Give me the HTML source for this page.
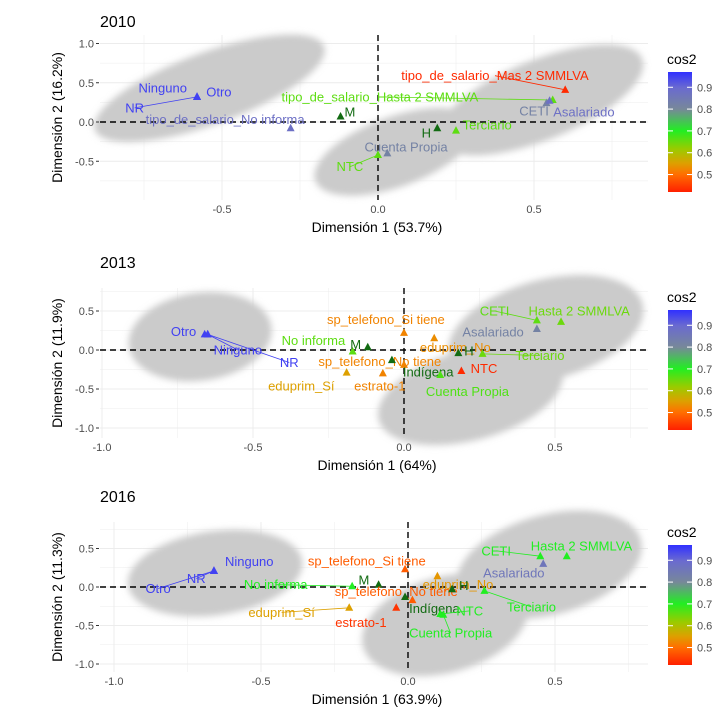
<!DOCTYPE html>
<html><head><meta charset="utf-8"><style>
html,body{margin:0;padding:0;background:#fff}
svg{display:block;font-family:"Liberation Sans",sans-serif}
</style></head><body>
<svg id="chart" width="718" height="721" viewBox="0 0 718 721">
<defs>
<filter id="blur" x="-30%" y="-30%" width="160%" height="160%"><feGaussianBlur stdDeviation="3.5"/></filter>
<linearGradient id="cbar" x1="0" y1="0" x2="0" y2="1">
<stop offset="0" stop-color="#3030ff"/><stop offset="0.13" stop-color="#6a6ad0"/><stop offset="0.31" stop-color="#778899"/>
<stop offset="0.49" stop-color="#22ee22"/><stop offset="0.64" stop-color="#99cc00"/><stop offset="0.76" stop-color="#dda000"/>
<stop offset="0.85" stop-color="#ff7000"/><stop offset="1" stop-color="#ff2000"/></linearGradient>
</defs>
</svg>
<script>
// ---------- data: 2010 ----------
const cats2010 = ["Ninguno","Otro","NR","tipo_de_salario_No informa","M","tipo_de_salario_Hasta 2 SMMLVA","tipo_de_salario_Mas 2 SMMLVA","CETI","Asalariado","H","Terciario","Cuenta Propia","NTC"];
const x2010 = [-0.58,-0.58,-0.58,-0.28,-0.12,0.56,0.60,0.54,0.55,0.19,0.25,0.03,0.0];
const y2010 = [0.32,0.32,0.32,-0.08,0.07,0.28,0.41,0.24,0.27,-0.08,-0.11,-0.40,-0.42];
const lx2010 = [-0.69,-0.51,-0.78,-0.49,-0.09,0.006,0.375,0.50,0.66,0.155,0.35,0.09,-0.09];
const ly2010 = [0.43,0.38,0.18,0.03,0.13,0.32,0.59,0.14,0.13,-0.14,-0.04,-0.32,-0.57];
const cos2010 = [0.95,0.95,0.95,0.88,0,0.66,0.43,0.82,0.88,0,0.66,0.82,0.66];
const sup2010 = [0,0,0,0,1,0,0,0,0,1,0,0,0];
const link2010 = [0,0,1,0,0,1,1,0,0,0,0,0,1];
// ---------- data: 2013 ----------
const cats2013 = ["Otro","Ninguno","NR","No informa","M","sp_telefono_Si tiene","eduprim_No","sp_telefono_No tiene","eduprim_Sí","estrato-1","Indígena","H","Terciario","NTC","Cuenta Propia","CETI","Hasta 2 SMMLVA","Asalariado"];
const x2013 = [-0.66,-0.65,-0.65,-0.17,-0.12,0.0,0.10,0.0,-0.19,-0.07,-0.04,0.18,0.26,0.19,0.12,0.44,0.52,0.44];
const y2013 = [0.20,0.20,0.20,-0.02,0.035,0.22,0.15,-0.19,-0.29,-0.30,-0.13,-0.04,-0.05,-0.27,-0.32,0.38,0.36,0.27];
const lx2013 = [-0.73,-0.55,-0.38,-0.30,-0.16,-0.06,0.17,-0.08,-0.34,-0.08,0.08,0.215,0.45,0.265,0.21,0.30,0.58,0.295];
const ly2013 = [0.24,0.0,-0.16,0.12,0.07,0.39,0.035,-0.15,-0.46,-0.46,-0.28,-0.01,-0.07,-0.24,-0.53,0.50,0.50,0.23];
const cos2013 = [0.95,0.95,0.95,0.66,0,0.52,0.53,0.52,0.55,0.52,0,0,0.65,0.43,0.67,0.66,0.65,0.82];
const sup2013 = [0,0,0,0,1,0,0,0,0,0,1,1,0,0,0,0,0,0];
const link2013 = [0,1,1,0,0,0,0,0,0,0,0,0,1,0,0,1,0,0];
// ---------- data: 2016 ----------
const cats2016 = ["Ninguno","NR","Otro","No informa","M","sp_telefono_Si tiene","eduprim_No","sp_telefono_No tiene","Indígena","H","Terciario","NTC","Cuenta Propia","eduprim_Sí","estrato-1","CETI","Hasta 2 SMMLVA","Asalariado"];
const x2016 = [-0.66,-0.66,-0.66,-0.19,-0.10,-0.01,0.10,0.015,-0.01,0.15,0.26,0.11,0.12,-0.20,-0.04,0.45,0.54,0.46];
const y2016 = [0.21,0.21,0.21,0.01,0.03,0.23,0.14,-0.17,-0.13,-0.03,-0.05,-0.35,-0.36,-0.27,-0.27,0.40,0.40,0.30];
const lx2016 = [-0.54,-0.72,-0.85,-0.45,-0.15,-0.14,0.17,-0.04,0.09,0.19,0.42,0.21,0.145,-0.43,-0.16,0.30,0.59,0.36];
const ly2016 = [0.33,0.11,-0.02,0.03,0.09,0.34,0.035,-0.06,-0.28,0.02,-0.26,-0.31,-0.60,-0.33,-0.46,0.47,0.53,0.18];
const cos2016 = [0.95,0.95,0.95,0.70,0,0.48,0.54,0.48,0,0,0.70,0.70,0.70,0.55,0.44,0.70,0.70,0.86];
const sup2016 = [0,0,0,0,1,0,0,0,1,1,0,0,0,0,0,0,0,0];
const link2016 = [0,1,1,1,0,0,0,0,0,0,1,1,1,1,0,1,0,0];
// tick label arrays
const xTicks1 = [-0.5,0,0.5];
const xTicks23 = [-1.0,-0.5,0,0.5];
const yTicks1 = [1.0,0.5,0,-0.5];
const yTicks23 = [0.5,0,-0.5,-1.0];
const cbTicks = [0.9,0.8,0.7,0.6,0.5];

const NS = "http://www.w3.org/2000/svg";
const svg = document.getElementById('chart');
function mk(tag, attrs, parent, txt){
  const e = document.createElementNS(NS, tag);
  for (const k in attrs) e.setAttribute(k, attrs[k]);
  if (txt !== undefined) e.textContent = txt;
  (parent||svg).appendChild(e); return e;
}
const stops = [[0.42,[255,32,0]],[0.5,[255,112,0]],[0.55,[221,160,0]],[0.62,[153,204,0]],[0.7,[34,238,34]],[0.8,[119,136,153]],[0.9,[106,106,208]],[0.97,[48,48,255]]];
function colorOf(v){
  if (v <= stops[0][0]) return 'rgb('+stops[0][1]+')';
  for (let i=1;i<stops.length;i++){
    if (v <= stops[i][0]){
      const t=(v-stops[i-1][0])/(stops[i][0]-stops[i-1][0]);
      const c=stops[i-1][1].map((a,j)=>Math.round(a+(stops[i][1][j]-a)*t));
      return 'rgb('+c+')';
    }
  }
  return 'rgb('+stops[stops.length-1][1]+')';
}

function panel(cfg){
  const g = mk('g',{});
  
  
  const sx = v => cfg.x0 + v*cfg.kx;
  const sy = v => cfg.y0 - v*cfg.ky;
  const grid = mk('g',{},g);
  
  
  for (let v=-1.25; v<=1.01; v+=0.25){
    const major = Math.abs(v*2-Math.round(v*2))<1e-6;
    const px=sx(v); if (px>=cfg.L && px<=cfg.R) mk('line',{x1:px,x2:px,y1:cfg.T,y2:cfg.B,stroke:'#ececec','stroke-width':major?1:0.5},grid);
    const py=sy(v); if (py>=cfg.T && py<=cfg.B) mk('line',{x1:cfg.L,x2:cfg.R,y1:py,y2:py,stroke:'#ececec','stroke-width':major?1:0.5},grid);
  }
  const cl = mk('g',{filter:'url(#blur)'},g);
  
  
  cfg.clouds.forEach(c=>{
    const e = mk('ellipse',{cx:sx(c[0]),cy:sy(c[1]),rx:c[2],ry:c[3],fill:'#cbcbcb',transform:'rotate('+c[4]+' '+sx(c[0])+' '+sy(c[1])+')'},cl);
    
    
  });
  const hl = mk('line',{x1:cfg.L,x2:cfg.R,y1:sy(0),y2:sy(0),stroke:'#000','stroke-width':1.4,'stroke-dasharray':'6,4'},g);
  
  
  const vl = mk('line',{x1:sx(0),x2:sx(0),y1:cfg.T,y2:cfg.B,stroke:'#000','stroke-width':1.4,'stroke-dasharray':'6,4'},g);
  
  
  const d = cfg.data;
  d.cats.forEach((name,i)=>{
    const col = d.sup[i] ? '#126b12' : colorOf(d.cos[i]);
    const px=sx(d.x[i]), py=sy(d.y[i]), lx=sx(d.lx[i]), ly=sy(d.ly[i]);
    if (d.link[i]){
      const ln = mk('line',{x1:lx,y1:ly,x2:px,y2:py,stroke:col,'stroke-width':0.8},g);
      
      
    }
    const tri = mk('path',{d:'M'+px+','+(py-4.5)+'L'+(px+4)+','+(py+3)+'L'+(px-4)+','+(py+3)+'Z',fill:col},g);
    
    
    const t = mk('text',{x:lx,y:ly+4.5,'text-anchor':'middle','font-size':13,fill:col},g,name);
    
    
  });
  const tt = mk('text',{x:100,y:cfg.titleY,'font-size':16,fill:'#000'},g,cfg.title);
  
  
  cfg.xt.forEach(v=>{
    const t=mk('text',{x:sx(v),y:cfg.B+13,'text-anchor':'middle','font-size':11,fill:'#4d4d4d'},g,v.toFixed(1));
    
    
  });
  cfg.yt.forEach(v=>{
    const py=sy(v);
    mk('line',{x1:cfg.L-4,x2:cfg.L-1,y1:py,y2:py,stroke:'#333','stroke-width':1},g);
    const t=mk('text',{x:cfg.L-6,y:py+4,'text-anchor':'end','font-size':11,fill:'#4d4d4d'},g,v.toFixed(1));
    
    
  });
  const xa=mk('text',{x:(cfg.L+cfg.R)/2+3,y:cfg.B+32,'text-anchor':'middle','font-size':14,fill:'#000'},g,cfg.xlab);
  
  
  const cy=(cfg.T+cfg.B)/2;
  const ya=mk('text',{x:62,y:cy,'text-anchor':'middle','font-size':14,fill:'#000',transform:'rotate(-90 62 '+cy+')'},g,cfg.ylab);
  
  
  const lg = mk('g',{},g);
  
  
  mk('text',{x:667,y:cfg.cbTop-8,'font-size':14,fill:'#000'},lg,'cos2');
  mk('rect',{x:668,y:cfg.cbTop,width:24,height:120,fill:'url(#cbar)'},lg);
  cbTicks.forEach(v=>{
    const py = cfg.cbTop + (0.97-v)/0.55*120;
    mk('line',{x1:668,x2:673,y1:py,y2:py,stroke:'#fff','stroke-width':1},lg);
    mk('line',{x1:687,x2:692,y1:py,y2:py,stroke:'#fff','stroke-width':1},lg);
    mk('text',{x:697,y:py+4,'font-size':11,fill:'#4d4d4d'},lg,v.toFixed(1));
  });
}

panel({title:'2010',titleY:27,L:100,R:648,T:35,B:200,x0:378,kx:312,y0:122,ky:78.5,
  xt:xTicks1,yt:yTicks1,xlab:'Dimensión 1 (53.7%)',ylab:'Dimensión 2 (16.2%)',cbTop:72,
  clouds:[[-0.54,0.43,122,36,-20],[0.055,-0.38,85,35,-20],[0.52,0.28,110,40,-22]],
  data:{cats:cats2010,x:x2010,y:y2010,lx:lx2010,ly:ly2010,cos:cos2010,sup:sup2010,link:link2010}});
panel({title:'2013',titleY:268,L:100,R:648,T:288,B:438,x0:404,kx:302,y0:350,ky:78,
  xt:xTicks23,yt:yTicks23,xlab:'Dimensión 1 (64%)',ylab:'Dimensión 2 (11.9%)',cbTop:310,
  clouds:[[-0.675,0.17,72,44,-8],[0.22,-0.58,95,45,-15],[0.47,0.26,100,50,-15]],
  data:{cats:cats2013,x:x2013,y:y2013,lx:lx2013,ly:ly2013,cos:cos2013,sup:sup2013,link:link2013}});
panel({title:'2016',titleY:502,L:100,R:648,T:522,B:672,x0:408,kx:294,y0:587,ky:77,
  xt:xTicks23,yt:yTicks23,xlab:'Dimensión 1 (63.9%)',ylab:'Dimensión 2 (11.3%)',cbTop:545,
  clouds:[[-0.656,0.18,88,42,-8],[0.126,-0.49,85,48,-15],[0.48,0.29,95,50,-15]],
  data:{cats:cats2016,x:x2016,y:y2016,lx:lx2016,ly:ly2016,cos:cos2016,sup:sup2016,link:link2016}});
</script>
</body></html>
